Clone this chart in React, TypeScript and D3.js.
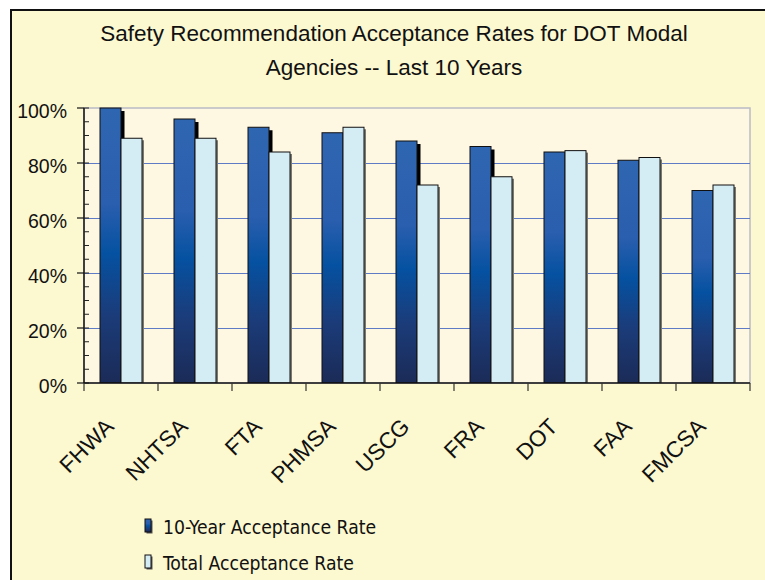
import { useEffect, useRef } from "react";
import * as d3 from "d3";

// Data
const agencies = ["FHWA", "NHTSA", "FTA", "PHMSA", "USCG", "FRA", "DOT", "FAA", "FMCSA"];
const tenYearRate = [1.0, 0.96, 0.93, 0.91, 0.88, 0.86, 0.84, 0.81, 0.7];
const totalRate = [0.89, 0.89, 0.84, 0.93, 0.72, 0.75, 0.845, 0.82, 0.72];
const seriesNames = ["10-Year Acceptance Rate", "Total Acceptance Rate"];
const yTicks = [0, 0.2, 0.4, 0.6, 0.8, 1.0];
const titleLines = [
  "Safety Recommendation Acceptance Rates for DOT Modal",
  "Agencies -- Last 10 Years",
];

export default function App() {
  const ref = useRef<SVGSVGElement>(null);

  useEffect(() => {
    if (!ref.current) return;
    const svg = d3.select(ref.current);
    svg.selectAll("*").remove();

    const W = 765;
    const H = 580;
    const plot = { left: 84, right: 750, top: 108, bottom: 383 };
    const sans = "'Liberation Sans', Arial, sans-serif";

    // gradient for the dark bars
    const defs = svg.append("defs");
    const grad = defs
      .append("linearGradient")
      .attr("id", "darkBar")
      .attr("x1", 0)
      .attr("y1", 0)
      .attr("x2", 0)
      .attr("y2", 1);
    [
      [0, "#2f66b1"],
      [0.35, "#2a5eae"],
      [0.53, "#0551a1"],
      [0.75, "#1b3c7a"],
      [1, "#1b2b57"],
    ].forEach(([o, c]) => grad.append("stop").attr("offset", o as number).attr("stop-color", c as string));

    defs
      .append("clipPath")
      .attr("id", "plotClip")
      .append("rect")
      .attr("x", plot.left)
      .attr("y", 0)
      .attr("width", plot.right - plot.left + 10)
      .attr("height", plot.bottom);

    // outer frame
    svg.append("rect").attr("width", W).attr("height", H).attr("fill", "#fff");
    svg
      .append("rect")
      .attr("x", 11)
      .attr("y", 10)
      .attr("width", 820)
      .attr("height", 620)
      .attr("fill", "#fcf8d0")
      .attr("stroke", "#111")
      .attr("stroke-width", 2);

    // title
    svg
      .append("g")
      .selectAll("text")
      .data(titleLines)
      .enter()
      .append("text")
      .attr("x", 394)
      .attr("y", (d, i) => 41 + i * 34)
      .attr("text-anchor", "middle")
      .attr("font-family", sans)
      .attr("font-size", 22.5)
      .attr("fill", "#111")
      .text((d) => d);

    // scales
    const x = d3.scaleBand().domain(agencies).range([plot.left, plot.right]);
    const x1 = d3.scaleBand().domain(seriesNames).range([16, 58]);
    const y = d3.scaleLinear().domain([0, 1]).range([plot.bottom, plot.top]);

    // plot area
    svg
      .append("rect")
      .attr("x", plot.left)
      .attr("y", plot.top)
      .attr("width", plot.right - plot.left)
      .attr("height", plot.bottom - plot.top)
      .attr("fill", "#fef7e2")
      .attr("stroke", "#b9bcc6")
      .attr("stroke-width", 1.5);

    // gridlines
    svg
      .append("g")
      .selectAll("line")
      .data(yTicks.filter((t) => t > 0 && t < 1))
      .enter()
      .append("line")
      .attr("x1", plot.left)
      .attr("x2", plot.right)
      .attr("y1", (d) => Math.round(y(d)) + 0.5)
      .attr("y2", (d) => Math.round(y(d)) + 0.5)
      .attr("stroke", "#5f7bc6")
      .attr("stroke-width", 1);

    // bars
    const rows = agencies.map((a, i) => ({ agency: a, values: [tenYearRate[i], totalRate[i]] }));
    const bw = x1.bandwidth();
    const groups = svg
      .append("g")
      .attr("clip-path", "url(#plotClip)")
      .selectAll("g")
      .data(rows)
      .enter()
      .append("g")
      .attr("transform", (d) => `translate(${x(d.agency)},0)`);

    groups.each(function (d) {
      const g = d3.select(this);
      // dark bar: shadow then bar
      g.append("rect")
        .attr("x", x1(seriesNames[0])! + 3.5)
        .attr("y", y(d.values[0]) + 3)
        .attr("width", bw)
        .attr("height", plot.bottom - y(d.values[0]))
        .attr("fill", "#000");
      g.append("rect")
        .attr("x", x1(seriesNames[0])!)
        .attr("y", y(d.values[0]))
        .attr("width", bw)
        .attr("height", plot.bottom - y(d.values[0]))
        .attr("fill", "url(#darkBar)")
        .attr("stroke", "#111")
        .attr("stroke-width", 1);
      // light bar: shadow then bar
      g.append("rect")
        .attr("x", x1(seriesNames[1])! + 2)
        .attr("y", y(d.values[1]) + 2)
        .attr("width", bw)
        .attr("height", plot.bottom - y(d.values[1]))
        .attr("fill", "#7a7a72");
      g.append("rect")
        .attr("x", x1(seriesNames[1])!)
        .attr("y", y(d.values[1]))
        .attr("width", bw)
        .attr("height", plot.bottom - y(d.values[1]))
        .attr("fill", "#d4ecf4")
        .attr("stroke", "#111")
        .attr("stroke-width", 1);
    });

    // y axis
    const yAxis = svg.append("g");
    yAxis
      .append("line")
      .attr("x1", plot.left)
      .attr("x2", plot.left)
      .attr("y1", plot.top)
      .attr("y2", plot.bottom)
      .attr("stroke", "#111")
      .attr("stroke-width", 1.5);
    yAxis
      .selectAll(".minor")
      .data(y.ticks(25))
      .enter()
      .append("line")
      .attr("x1", plot.left)
      .attr("x2", plot.left + 5)
      .attr("y1", (d) => y(d))
      .attr("y2", (d) => y(d))
      .attr("stroke", "#222");
    yAxis
      .selectAll(".major")
      .data(yTicks)
      .enter()
      .append("line")
      .attr("x1", plot.left - 7)
      .attr("x2", plot.left)
      .attr("y1", (d) => y(d))
      .attr("y2", (d) => y(d))
      .attr("stroke", "#111")
      .attr("stroke-width", 1.2);
    yAxis
      .selectAll("text")
      .data(yTicks)
      .enter()
      .append("text")
      .attr("x", 67)
      .attr("y", (d) => y(d) + 9.5)
      .attr("text-anchor", "end")
      .attr("font-family", sans)
      .attr("font-size", 19.5)
      .attr("fill", "#111")
      .text((d) => d3.format(".0%")(d));

    // x axis
    const xAxis = svg.append("g");
    xAxis
      .append("line")
      .attr("x1", plot.left)
      .attr("x2", plot.right)
      .attr("y1", plot.bottom)
      .attr("y2", plot.bottom)
      .attr("stroke", "#111")
      .attr("stroke-width", 1.5);
    xAxis
      .selectAll(".tick")
      .data([...agencies.map((a) => x(a)!), plot.right])
      .enter()
      .append("line")
      .attr("x1", (d) => d)
      .attr("x2", (d) => d)
      .attr("y1", plot.bottom)
      .attr("y2", plot.bottom + 8)
      .attr("stroke", "#333")
      .attr("stroke-width", 1.2);
    xAxis
      .selectAll("text")
      .data(agencies)
      .enter()
      .append("text")
      .attr("transform", (d) => `translate(${x(d)! + x.bandwidth() / 2 - 6},${plot.bottom + 45}) rotate(-45)`)
      .attr("text-anchor", "end")
      .attr("font-family", sans)
      .attr("font-size", 22.5)
      .attr("fill", "#111")
      .text((d) => d);

    // legend
    const legend = svg
      .append("g")
      .selectAll("g")
      .data(seriesNames)
      .enter()
      .append("g")
      .attr("transform", (d, i) => `translate(145,${519 + i * 36})`);
    legend
      .append("rect")
      .attr("x", 1.5)
      .attr("y", 1.5)
      .attr("width", 6)
      .attr("height", 13)
      .attr("fill", "#555");
    legend
      .append("rect")
      .attr("width", 6)
      .attr("height", 13)
      .attr("fill", (d, i) => (i === 0 ? "url(#darkBar)" : "#d4ecf4"))
      .attr("stroke", "#111")
      .attr("stroke-width", 1);
    legend
      .append("text")
      .attr("x", 18)
      .attr("y", 14.5)
      .attr("font-family", "'DejaVu Sans Condensed', 'DejaVu Sans', sans-serif")
      .attr("font-stretch", "condensed")
      .attr("font-size", 19.2)
      .attr("fill", "#111")
      .text((d) => d);
  }, []);

  return (
    <div style={{ position: "absolute", left: 0, top: 0 }}>
      <svg ref={ref} width={765} height={580} style={{ display: "block" }} />
    </div>
  );
}
